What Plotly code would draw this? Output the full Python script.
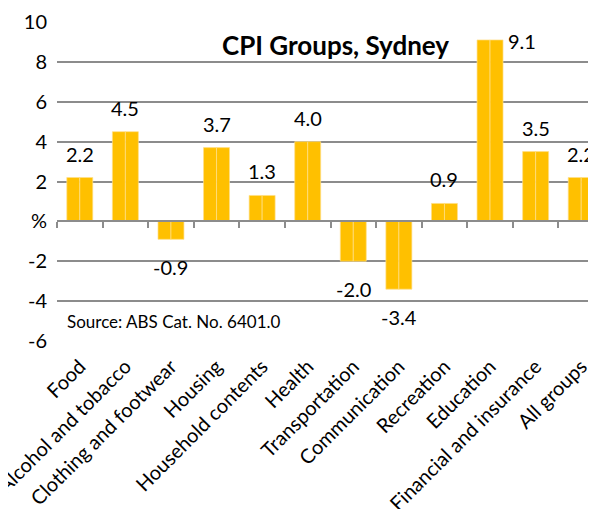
import plotly.graph_objects as go

groups = ['Food', 'Alcohol and tobacco', 'Clothing and footwear', 'Housing',
          'Household contents', 'Health', 'Transportation', 'Communication',
          'Recreation', 'Education', 'Financial and insurance', 'All groups']
change = [2.2, 4.5, -0.9, 3.7, 1.3, 4.0, -2.0, -3.4, 0.9, 9.1, 3.5, 2.2]
ytick_vals = [10, 8, 6, 4, 2, 0, -2, -4, -6]
ytick_text = ['10', '8', '6', '4', '2', '%', '-2', '-4', '-6']

FONT = 'Lato'
GOLD = '#FFC000'
EDGE = '#FFE08A'
GRID = '#8C8C8C'

xs = list(range(len(groups)))

fig = go.Figure()
# two halves per bar give the thin light stripe down the middle
for k in range(2):
    fig.add_trace(go.Bar(x=xs, y=change, marker=dict(color=GOLD, line=dict(color=EDGE, width=0.7)),
                         showlegend=False, hoverinfo='skip'))

# data labels
for i, v in enumerate(change):
    if v == max(change):
        fig.add_annotation(x=i, y=v, text=f'{v:.1f}', showarrow=False, xanchor='left',
                           yanchor='middle', xshift=16, yshift=-1)
    elif v >= 0:
        fig.add_annotation(x=i, y=v, text=f'{v:.1f}', showarrow=False, yanchor='middle', yshift=24)
    else:
        fig.add_annotation(x=i, y=v, text=f'{v:.1f}', showarrow=False, yanchor='middle', yshift=-28)

fig.add_annotation(x=0.51, y=0.928, xref='paper', yref='paper', text='<b>CPI Groups, Sydney</b>',
                   showarrow=False, xanchor='center', yanchor='middle',
                   font=dict(size=26, family=FONT, color='black'))
fig.add_annotation(x=0.014, y=0.06, xref='paper', yref='paper', text='Source: ABS Cat. No. 6401.0',
                   showarrow=False, xanchor='left', yanchor='middle',
                   font=dict(size=17, family=FONT, color='black'))

fig.update_layout(
    width=596, height=509,
    margin=dict(l=49, r=0, t=14, b=176),
    paper_bgcolor='white', plot_bgcolor='white',
    barmode='group', bargap=0.43, bargroupgap=0,
    font=dict(family=FONT, size=20, color='black'),
    xaxis=dict(range=[-0.5, 11.5], tickmode='array', tickvals=xs, ticktext=groups,
               tickangle=-45, ticks='', showgrid=False, zeroline=False, showline=False,
               tickfont=dict(size=20), ticklabelstandoff=9, ticklabeloverflow='allow',
               automargin=False),
    xaxis2=dict(overlaying='x', matches='x', anchor='free', position=6 / 16,
                tickmode='array', tickvals=[i - 0.5 for i in xs] + [len(xs) - 0.5],
                ticks='outside', ticklen=6, tickwidth=1.5, tickcolor=GRID,
                showticklabels=False, showline=True, linecolor=GRID, linewidth=1.5,
                showgrid=False, zeroline=False),
    yaxis=dict(range=[-6, 10], tickmode='array', tickvals=ytick_vals, ticktext=ytick_text,
               showgrid=True, gridcolor=GRID, gridwidth=1.5, zeroline=False,
               ticks='', ticklabelstandoff=9, tickfont=dict(size=20), automargin=False),
)
# dummy trace to make xaxis2 show
fig.add_trace(go.Scatter(x=[0], y=[0], xaxis='x2', mode='markers', marker=dict(opacity=0),
                         showlegend=False, hoverinfo='skip'))

fig.write_html("out.html")
